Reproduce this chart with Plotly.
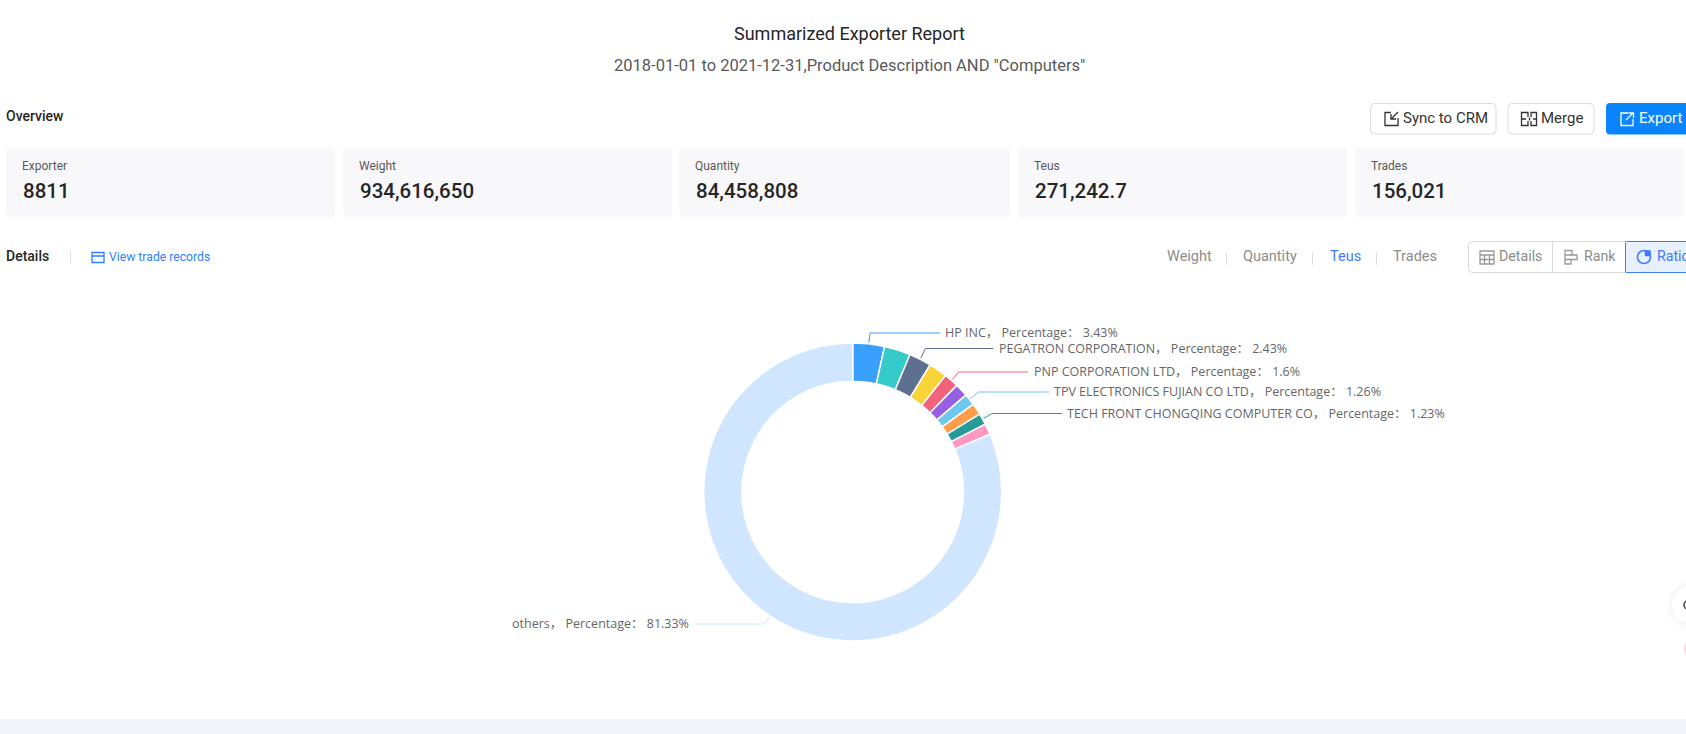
import math
import plotly.graph_objects as go

W, H = 1686, 734

# donut data, clockwise from 12 o'clock (unnamed slices have no label in the picture)
exporters = ['HP INC', None, 'PEGATRON CORPORATION', None, 'PNP CORPORATION LTD', None,
             'TPV ELECTRONICS FUJIAN CO LTD', None, 'TECH FRONT CHONGQING COMPUTER CO', None, 'others']
percentages = [3.43, 2.85, 2.43, 2.0, 1.6, 1.42, 1.26, 1.25, 1.23, 1.2, 81.33]

card_titles = ['Exporter', 'Weight', 'Quantity', 'Teus', 'Trades']
card_values = ['8811', '934,616,650', '84,458,808', '271,242.7', '156,021']
metric_tabs = ['Weight', 'Quantity', 'Teus', 'Trades']

slice_colors = ['#3AA0FF', '#36CBCB', '#5D7092', '#FAD337', '#F2637B', '#975FE4',
                '#6DC8EC', '#FF9D4D', '#269A99', '#FF99C3', '#D0E6FF']

# layout, in page pixels
CX, CY, R = 852.7, 492, 149
card_x = [(6, 335), (343, 672), (679, 1010), (1018, 1347), (1355, 1684)]
tab_x = [1167, 1243, 1330, 1393]
# where each label's leader line stops and its text starts
label_pos = {0: (940, 945, 333), 2: (993, 999, 348.5), 4: (1028, 1034, 372),
             6: (1049, 1054, 392), 8: (1062, 1067, 413.5), 10: (695, 689, 624)}


def rrect(x0, y0, x1, y1, r):
    return (f'M{x0+r},{y0} L{x1-r},{y0} Q{x1},{y0} {x1},{y0+r} L{x1},{y1-r} Q{x1},{y1} {x1-r},{y1} '
            f'L{x0+r},{y1} Q{x0},{y1} {x0},{y1-r} L{x0},{y0+r} Q{x0},{y0} {x0+r},{y0} Z')


shapes = []
annotations = []


def box(x0, y0, x1, y1, r=4, fill='rgba(0,0,0,0)', line=None, width=1):
    shapes.append(dict(type='path', path=rrect(x0, y0, x1, y1, r), fillcolor=fill,
                       line=dict(color=line or 'rgba(0,0,0,0)', width=width if line else 0)))


def stroke(path, color, width=1.3, fill='rgba(0,0,0,0)'):
    shapes.append(dict(type='path', path=path, fillcolor=fill, line=dict(color=color, width=width)))


def circle(cx, cy, r, fill='rgba(0,0,0,0)', line=None, width=1):
    shapes.append(dict(type='circle', x0=cx-r, x1=cx+r, y0=cy-r, y1=cy+r, fillcolor=fill,
                       line=dict(color=line or 'rgba(0,0,0,0)', width=width if line else 0)))


def text(x, y, s, size=14, color='#333', anchor='left', weight=400, family='Roboto'):
    # annotations keep about 1px of padding around the text
    x += {'left': -1, 'right': 1, 'center': 0}[anchor]
    annotations.append(dict(x=x, y=y, xref='x', yref='y', text=s, showarrow=False, xanchor=anchor,
                            yanchor='middle', borderpad=0,
                            font=dict(family=family, size=size, color=color, weight=weight)))


# header
text(849, 33, 'Summarized Exporter Report', 18, '#262626', 'center')
text(849, 65, '2018-01-01 to 2021-12-31,Product Description AND "Computers"', 16.5, '#595959', 'center')
text(6, 116, 'Overview', 14, '#262626', weight=500)

# buttons
box(1370.5, 103.5, 1496, 134, 4, '#fff', '#DCDCDC')
box(1508, 103.5, 1594, 134, 4, '#fff', '#DCDCDC')
box(1606, 103, 1700, 134.5, 4, '#0A84FF')
text(1403, 118, 'Sync to CRM', 15, '#333')
text(1541, 118, 'Merge', 15, '#333')
text(1639, 118, 'Export', 15, '#fff')
stroke('M1391,112.5 L1385,112.5 L1385,125.5 L1398,125.5 L1398,118', '#333')
stroke('M1398,112 L1391,119 M1391,114 L1391,119 L1396,119', '#333')
stroke('M1528,117 L1528,112.5 L1521.5,112.5 L1521.5,125.5 L1528,125.5 L1528,121', '#333')
stroke('M1531,117 L1531,112.5 L1536.5,112.5 L1536.5,125.5 L1531,125.5 L1531,121', '#333')
stroke('M1521.5,119 L1526,119 M1533,119 L1536.5,119 M1529.5,117.5 L1529.5,120.5', '#333')
stroke('M1628,113 L1621,113 L1621,125.5 L1633,125.5 L1633,119', '#fff')
stroke('M1633,113 L1626,120 M1628.5,113 L1633.5,113 L1633.5,118', '#fff')

# summary cards
for (x0, x1), title, value in zip(card_x, card_titles, card_values):
    box(x0, 147, x1, 217, 5, '#F8F8FA')
    text(x0 + 16, 166, title, 12, '#595959')
    text(x0 + 16.5, 191, value, 20.5, '#262626', weight=500)

# details row
text(6, 256, 'Details', 14, '#262626', weight=500)
shapes.append(dict(type='line', x0=70.5, x1=70.5, y0=250, y1=263, line=dict(color='#E3E3E3', width=1)))
stroke('M92,252.5 L104,252.5 L104,262.5 L92,262.5 Z M92,256 L104,256', '#2F80FF', 1.3)
text(109, 257, 'View trade records', 12.2, '#2F80FF')

for x, name in zip(tab_x, metric_tabs):
    text(x, 256, name, 14.5, '#3D7BFF' if name == 'Teus' else '#8C8C8C')
for x in (1226.5, 1312.5, 1376.5):
    shapes.append(dict(type='line', x0=x, x1=x, y0=253, y1=265, line=dict(color='#DDDDDD', width=1)))

box(1468.5, 241.5, 1640, 272.5, 4, '#fff', '#D9D9D9')
shapes.append(dict(type='line', x0=1552.5, x1=1552.5, y0=241.5, y1=272.5, line=dict(color='#D9D9D9', width=1)))
box(1625.5, 241.5, 1700, 272.5, 1, '#E8F0FE', '#3D7BFF')
text(1499, 256, 'Details', 14.2, '#8C8C8C')
text(1584, 256, 'Rank', 14.2, '#8C8C8C')
text(1657, 256, 'Ratio', 14.2, '#3D7BFF')
stroke('M1480,251 L1494,251 L1494,264 L1480,264 Z M1480,255 L1494,255 M1480,259.5 L1494,259.5 '
       'M1484.5,255 L1484.5,264 M1489.5,255 L1489.5,264', '#999', 1.3)
stroke('M1565,250.5 L1572,250.5 L1572,255 L1565,255 Z M1565,255 L1577,255 L1577,259.5 L1565,259.5 Z '
       'M1565,259.5 L1571,259.5 L1571,264 L1565,264 Z', '#999', 1.3)
circle(1644, 257, 6.5, line='#3D7BFF', width=1.6)
stroke('M1645,250.5 L1650.5,250.5 L1650.5,256 L1645,256 Z', '#3D7BFF', 0.5, '#3D7BFF')

# bottom band and the clipped floating buttons at the right edge
shapes.append(dict(type='rect', x0=0, x1=W, y0=719, y1=H, fillcolor='#F3F5FA', line=dict(width=0)))
for r, a in ((25, .012), (23, .018), (21, .025)):
    circle(1691, 605, r, f'rgba(60,80,120,{a})')
circle(1691, 605, 19, '#fff')
circle(1688, 605, 4, line='#4A4A55', width=1.6)
circle(1696, 649, 12, '#FBD5DC')

# leader lines follow the slice mid-angles, bending outward and running to the label
traces = []
cum = 0
for i, (name, pct) in enumerate(zip(exporters, percentages)):
    mid = math.radians((cum + pct / 2) * 3.6)
    cum += pct
    if name is None:
        continue
    end_x, txt_x, y = label_pos[i]
    sx, sy = CX + (R + 1) * math.sin(mid), CY - (R + 1) * math.cos(mid)
    ex = CX + (R + 11) * math.sin(mid)
    ey = CY - (R + 11) * math.cos(mid)
    traces.append(go.Scatter(x=[sx, ex, end_x], y=[sy, y, y], mode='lines', hoverinfo='skip',
                             line=dict(color=slice_colors[i], width=1)))
    text(txt_x, y - 0.5, f'{name}， Percentage： {pct:g}%', 12.5, '#666',
         'right' if name == 'others' else 'left', family='Open Sans, Noto Sans CJK SC')

fig = go.Figure(traces)
fig.add_trace(go.Pie(values=percentages, sort=False, direction='clockwise', rotation=0, hole=0.743,
                     textinfo='none', hoverinfo='skip', showlegend=False,
                     marker=dict(colors=slice_colors, line=dict(color='#fff', width=1.5)),
                     domain=dict(x=[(CX - R) / W, (CX + R) / W],
                                 y=[1 - (CY + R) / H, 1 - (CY - R) / H])))
fig.update_layout(
    width=W, height=H, margin=dict(l=0, r=0, t=0, b=0), showlegend=False,
    paper_bgcolor='#fff', plot_bgcolor='#fff', shapes=shapes, annotations=annotations,
    xaxis=dict(range=[0, W], visible=False, fixedrange=True),
    yaxis=dict(range=[H, 0], visible=False, fixedrange=True),
)
fig.write_html('out.html', config=dict(displayModeBar=False),
               post_script="document.body.style.margin='0';document.body.style.overflow='hidden';")
